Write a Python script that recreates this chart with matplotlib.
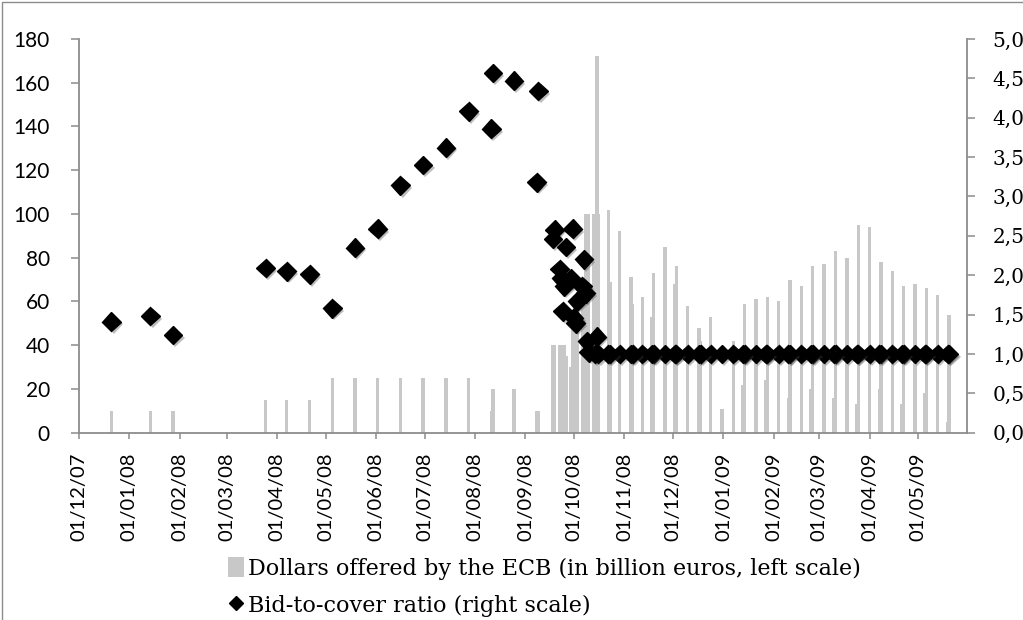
import matplotlib
matplotlib.use("Agg")
import matplotlib.pyplot as plt
import matplotlib.dates as mdates
import matplotlib.patheffects as pe
from matplotlib.lines import Line2D
from matplotlib.patches import Patch, Rectangle
from matplotlib.ticker import MultipleLocator, FuncFormatter
import pandas as pd

# Dollars offered by the ECB (billion euros, left scale)
bar_dates = [
    "2007-12-21", "2008-01-14", "2008-01-28", "2008-03-25", "2008-04-07",
    "2008-04-21", "2008-05-05", "2008-05-19", "2008-06-02", "2008-06-16",
    "2008-06-30", "2008-07-14", "2008-07-28", "2008-08-11", "2008-08-12",
    "2008-08-25", "2008-09-08", "2008-09-09", "2008-09-18", "2008-09-19",
    "2008-09-22", "2008-09-23", "2008-09-24", "2008-09-25", "2008-09-26",
    "2008-09-29", "2008-09-30", "2008-10-01", "2008-10-02", "2008-10-03",
    "2008-10-06", "2008-10-07", "2008-10-08", "2008-10-09", "2008-10-10",
    "2008-10-13", "2008-10-14", "2008-10-15", "2008-10-16",
]
bar_values = [
    10, 10, 10, 15, 15,
    15, 25, 25, 25, 25,
    25, 25, 25, 10, 20,
    20, 10, 10, 40, 40,
    40, 40, 40, 40, 35,
    30, 50, 50, 55, 55,
    60, 60, 100, 100, 100,
    100, 100, 172, 100,
]

# weekly operations after mid-October 2008
weekly_dates = [
    "2008-10-22", "2008-10-29", "2008-11-05", "2008-11-12", "2008-11-19",
    "2008-11-26", "2008-12-03", "2008-12-10", "2008-12-17", "2008-12-24",
    "2008-12-31", "2009-01-07", "2009-01-14", "2009-01-21", "2009-01-28",
    "2009-02-04", "2009-02-11", "2009-02-18", "2009-02-25", "2009-03-04",
    "2009-03-11", "2009-03-18", "2009-03-25", "2009-04-01", "2009-04-08",
    "2009-04-15", "2009-04-22", "2009-04-29", "2009-05-06", "2009-05-13",
    "2009-05-20",
]
weekly_values = [
    102, 92, 71, 62, 73,
    85, 76, 58, 48, 53,
    11, 42, 59, 61, 62,
    60, 70, 67, 76, 77,
    83, 80, 95, 94, 78,
    74, 67, 68, 66, 63,
    54,
]

# longer-term operations
term_dates = [
    "2008-10-23", "2008-11-06", "2008-11-18", "2008-12-02", "2008-12-18",
    "2009-01-13", "2009-01-27", "2009-02-10", "2009-02-24", "2009-03-10",
    "2009-03-24", "2009-04-07", "2009-04-21", "2009-05-05", "2009-05-19",
]
term_values = [
    69, 59, 53, 68, 42,
    22, 24, 16, 20, 16,
    13, 20, 13, 18, 5,
]

# Bid-to-cover ratio (right scale)
ratio_dates = [
    "2007-12-21", "2008-01-14", "2008-01-28", "2008-03-25", "2008-04-07",
    "2008-04-21", "2008-05-05", "2008-05-19", "2008-06-02", "2008-06-16",
    "2008-06-30", "2008-07-14", "2008-07-28", "2008-08-11", "2008-08-12",
    "2008-08-25", "2008-09-08", "2008-09-09", "2008-09-18", "2008-09-19",
    "2008-09-22", "2008-09-23", "2008-09-24", "2008-09-25", "2008-09-26",
    "2008-09-29", "2008-09-30", "2008-10-01", "2008-10-02", "2008-10-03",
    "2008-10-06", "2008-10-07", "2008-10-08", "2008-10-09", "2008-10-10",
    "2008-10-14", "2008-10-15", "2008-10-16",
]
ratio_values = [
    1.41, 1.48, 1.24, 2.09, 2.05,
    2.01, 1.58, 2.35, 2.59, 3.14,
    3.40, 3.62, 4.08, 3.86, 4.57,
    4.47, 3.18, 4.34, 2.46, 2.58,
    2.08, 1.96, 1.54, 1.86, 2.36,
    1.96, 2.59, 1.46, 1.39, 1.67,
    1.86, 2.20, 1.77, 1.16, 1.02,
    1.00, 1.22, 1.00,
]
weekly_ratio = [
    1.0, 1.0, 1.0, 1.0, 1.0, 1.0, 1.0, 1.0, 1.0, 1.0,
    1.0, 1.0, 1.0, 1.0, 1.0, 1.0, 1.0, 1.0, 1.0, 1.0,
    1.0, 1.0, 1.0, 1.0, 1.0, 1.0, 1.0, 1.0, 1.0, 1.0,
    1.0,
]
term_ratio = [
    1.0, 1.0, 1.0, 1.0, 1.0, 1.0, 1.0, 1.0, 1.0, 1.0,
    1.0, 1.0, 1.0, 1.0, 1.0,
]

bar_color = "#c8c8c8"
axis_color = "#8c8c8c"
sans = "Lato"
serif = "DejaVu Serif"

W, H = 1023, 620
fig = plt.figure(figsize=(W / 100, H / 100), dpi=100)
ax = fig.add_axes([79 / W, 1 - 432.7 / H, (967 - 79) / W, (432.7 - 39) / H])

for d, v in [(bar_dates, bar_values), (weekly_dates, weekly_values), (term_dates, term_values)]:
    ax.bar(pd.to_datetime(d), v, width=2.1, color=bar_color, linewidth=0, zorder=1)

ax.set_ylim(0, 180)
ax.yaxis.set_major_locator(MultipleLocator(20))
ax.set_xlim(pd.Timestamp("2007-12-01"), pd.Timestamp("2009-05-31"))
ax.xaxis.set_major_locator(mdates.MonthLocator())
ax.xaxis.set_major_formatter(mdates.DateFormatter("%d/%m/%y"))

ax2 = ax.twinx()
shadow = [pe.SimplePatchShadow(offset=(1.5, -2), shadow_rgbFace="#444444", alpha=0.35), pe.Normal()]
for d, v in [(ratio_dates, ratio_values), (weekly_dates, weekly_ratio), (term_dates, term_ratio)]:
    ax2.plot(pd.to_datetime(d), v, linestyle="none", marker="D", markersize=9.5,
             color="black", path_effects=shadow, zorder=3)
ax2.set_ylim(0, 5)
ax2.yaxis.set_major_locator(MultipleLocator(0.5))
ax2.yaxis.set_major_formatter(FuncFormatter(lambda v, p: f"{v:.1f}".replace(".", ",")))

for s in ["top", "right"]:
    ax.spines[s].set_visible(False)
for s in ["top", "left", "bottom"]:
    ax2.spines[s].set_visible(False)
for a in (ax, ax2):
    for s in a.spines.values():
        s.set_color(axis_color)
        s.set_linewidth(1.3)

ax.tick_params(axis="y", length=6, width=1.1, color=axis_color, pad=15,
               labelsize=15, labelfontfamily=sans)
ax.tick_params(axis="x", length=4, width=1.1, color=axis_color, pad=10,
               labelsize=14.5, labelfontfamily=sans, labelrotation=90)
ax2.tick_params(axis="y", length=6, width=1.1, color=axis_color, pad=12.5,
                labelsize=14.5, labelfontfamily=serif)

handles = [
    Patch(facecolor=bar_color, edgecolor="none"),
    Line2D([], [], linestyle="none", marker="D", markersize=7.5, color="black"),
]
labels = [
    "Dollars offered by the ECB (in billion euros, left scale)",
    "Bid-to-cover ratio (right scale)",
]
fig.legend(handles, labels, loc="upper left", bbox_to_anchor=(228 / W, 1 - 557 / H),
           frameon=False, handlelength=0.7, handleheight=1.0, handletextpad=0.2,
           labelspacing=0.65, borderpad=0, borderaxespad=0,
           prop={"family": serif, "size": 16})

# chart area border
fig.add_artist(Rectangle((1.5 / W, -0.05), 1.2, 1.05 - 1.5 / H, transform=fig.transFigure,
                         fill=False, edgecolor=axis_color, linewidth=1))

fig.savefig("out.png", dpi=100)
